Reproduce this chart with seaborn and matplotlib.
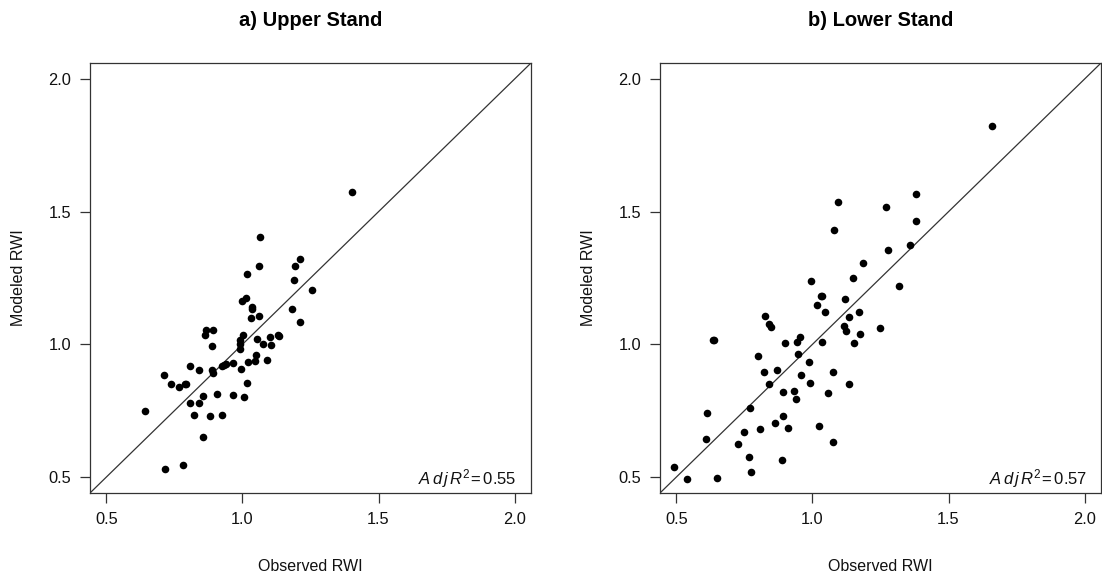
import numpy as np
import pandas as pd
import matplotlib
matplotlib.use("Agg")
import matplotlib.pyplot as plt
import seaborn as sns

# ---- data ----
upper_obs = [1.403, 1.063, 1.061, 1.210, 1.193, 1.189, 1.017, 1.254, 1.012, 0.999,
             1.034, 1.036, 1.183, 1.032, 1.059, 1.210, 0.867, 0.862, 0.893, 0.888,
             1.002, 0.990, 0.990, 0.990, 1.054, 1.075, 1.102, 1.105, 1.130, 1.136,
             1.048, 1.047, 1.090, 1.019, 0.994, 0.965, 0.941, 0.925, 0.932, 0.889,
             0.890, 0.806, 0.840, 0.711, 0.736, 0.766, 0.788, 0.794, 1.017, 0.908,
             0.965, 1.004, 0.855, 0.808, 0.840, 0.642, 0.823, 0.881, 0.926, 0.855,
             0.715, 0.782]
upper_mod = [1.573, 1.404, 1.296, 1.320, 1.296, 1.244, 1.266, 1.204, 1.176, 1.163,
             1.139, 1.133, 1.135, 1.100, 1.105, 1.084, 1.054, 1.036, 1.055, 0.995,
             1.034, 1.016, 1.001, 0.981, 1.020, 1.003, 1.028, 0.998, 1.035, 1.030,
             0.961, 0.939, 0.941, 0.934, 0.909, 0.929, 0.926, 0.919, 0.922, 0.904,
             0.891, 0.919, 0.904, 0.883, 0.850, 0.838, 0.850, 0.850, 0.856, 0.814,
             0.811, 0.800, 0.806, 0.779, 0.779, 0.749, 0.734, 0.730, 0.734, 0.651,
             0.530, 0.545]

lower_obs = [1.659, 1.379, 1.381, 1.094, 1.271, 1.078, 1.278, 1.360, 1.187, 1.150,
             0.996, 1.319, 1.032, 1.036, 1.121, 1.017, 1.046, 1.172, 1.136, 0.827,
             0.840, 0.849, 1.116, 1.122, 1.249, 1.173, 1.152, 1.034, 0.899, 0.635,
             0.640, 0.943, 0.954, 0.946, 0.799, 0.988, 0.870, 0.823, 1.074, 0.959,
             0.991, 0.841, 1.136, 0.892, 0.932, 0.941, 1.057, 0.769, 0.614, 0.890,
             0.862, 0.808, 0.910, 1.023, 0.748, 0.610, 0.728, 1.074, 0.767, 0.889,
             0.774, 0.493, 0.539, 0.648]
lower_mod = [1.823, 1.565, 1.464, 1.538, 1.518, 1.431, 1.356, 1.374, 1.305, 1.249,
             1.238, 1.219, 1.184, 1.184, 1.169, 1.148, 1.123, 1.123, 1.104, 1.106,
             1.076, 1.066, 1.069, 1.050, 1.060, 1.039, 1.005, 1.008, 1.005, 1.015,
             1.015, 1.010, 1.028, 0.965, 0.956, 0.933, 0.903, 0.894, 0.894, 0.884,
             0.855, 0.849, 0.851, 0.821, 0.823, 0.795, 0.815, 0.760, 0.743, 0.730,
             0.705, 0.680, 0.683, 0.691, 0.671, 0.644, 0.626, 0.634, 0.574, 0.563,
             0.518, 0.539, 0.494, 0.495]

titles = ["a) Upper Stand", "b) Lower Stand"]
r2_values = ["0.55", "0.57"]
ticks = [0.5, 1.0, 1.5, 2.0]
tick_labels = ["0.5", "1.0", "1.5", "2.0"]

sns.set_style("white")
plt.rcParams['font.family'] = ['Liberation Sans', 'DejaVu Sans']
plt.rcParams['mathtext.fontset'] = 'custom'
plt.rcParams['mathtext.rm'] = 'Liberation Sans'
plt.rcParams['mathtext.it'] = 'Liberation Sans:italic'
plt.rcParams['text.color'] = 'black'
plt.rcParams['axes.labelcolor'] = 'black'
plt.rcParams['xtick.color'] = 'black'
plt.rcParams['ytick.color'] = 'black'

fig = plt.figure(figsize=(11.02, 5.77), dpi=100)
W, H = 1102, 577
boxes = [(90, 63, 531, 493), (660, 63, 1101, 493)]
axes = [fig.add_axes([l / W, 1 - b / H, (r - l) / W, (b - t) / H]) for (l, t, r, b) in boxes]

panels = [(upper_obs, upper_mod), (lower_obs, lower_mod)]
for ax, (obs, mod), title, r2 in zip(axes, panels, titles, r2_values):
    df = pd.DataFrame({"Observed": obs, "Modeled": mod})
    ax.plot([0.44, 2.06], [0.44, 2.06], color="#333333", lw=0.9, zorder=1)
    sns.scatterplot(data=df, x="Observed", y="Modeled", ax=ax, color="black",
                    s=30, edgecolor="black", linewidth=0, zorder=3, legend=False)
    ax.set_xlim(0.44, 2.06)
    ax.set_ylim(0.44, 2.06)
    ax.set_xticks(ticks)
    ax.set_xticklabels(tick_labels)
    ax.set_yticks(ticks)
    ax.set_yticklabels(tick_labels)
    ax.tick_params(axis="both", direction="out", length=7.5, width=0.9,
                   color="#333333", labelcolor="#111111", labelsize=11.8, pad=6,
                   bottom=True, left=True)
    for sp in ax.spines.values():
        sp.set_visible(True)
        sp.set_color("#333333")
        sp.set_linewidth(0.9)
    ax.set_xlabel("Observed RWI", fontsize=11.5, color="#111111")
    ax.set_ylabel("Modeled RWI", fontsize=11.5, color="#111111")
    ax.xaxis.label.set_va("center")
    ax.yaxis.label.set_va("center")
    ax.xaxis.set_label_coords(0.5, -0.170)
    ax.yaxis.set_label_coords(-0.162, 0.5)
    ax.set_title(title, fontsize=14.5, fontweight="bold", pad=27, color="black")
    ax.text(0.968, 0.02,
            r"$\mathit{A}\,\mathit{d}\,\mathit{j}\,\mathit{R}^{2}\!=\!$" + r"$\,$" + r2,
            transform=ax.transAxes, ha="right", va="baseline", fontsize=12,
            color="#111111")

fig.savefig("out.png", dpi=100)
